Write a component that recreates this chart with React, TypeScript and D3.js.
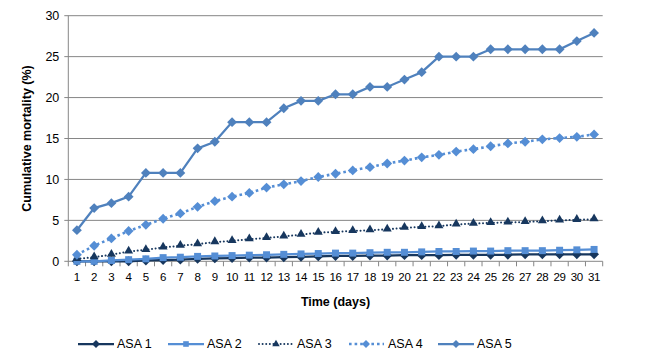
import React, { useEffect, useRef } from 'react';
import * as d3 from 'd3';

const days = d3.range(1, 32).map(String);
const yTicks = [0, 5, 10, 15, 20, 25, 30];

const asa1 = [0, 0, 0, 0, 0.1, 0.15, 0.2, 0.3, 0.35, 0.4, 0.45, 0.45, 0.5, 0.55, 0.6, 0.65, 0.65, 0.7, 0.7, 0.75, 0.75, 0.75, 0.8, 0.8, 0.8, 0.8, 0.85, 0.85, 0.85, 0.85, 0.85];
const asa2 = [0, 0, 0.1, 0.2, 0.3, 0.45, 0.5, 0.6, 0.65, 0.7, 0.75, 0.8, 0.85, 0.9, 0.95, 1.0, 1.0, 1.05, 1.1, 1.1, 1.15, 1.2, 1.2, 1.25, 1.25, 1.3, 1.3, 1.3, 1.35, 1.4, 1.45];
const asa3 = [0.3, 0.5, 0.8, 1.2, 1.4, 1.7, 1.9, 2.1, 2.35, 2.5, 2.7, 2.85, 3.05, 3.25, 3.5, 3.6, 3.7, 3.8, 3.9, 4.1, 4.2, 4.3, 4.5, 4.6, 4.7, 4.75, 4.8, 4.9, 5.0, 5.07, 5.15];
const asa4 = [0.8, 1.9, 2.8, 3.7, 4.45, 5.2, 5.85, 6.65, 7.35, 7.9, 8.35, 9.0, 9.4, 9.8, 10.3, 10.7, 11.1, 11.5, 11.95, 12.3, 12.7, 13.0, 13.4, 13.7, 14.05, 14.4, 14.6, 14.9, 15.05, 15.2, 15.5];
const asa5 = [3.8, 6.5, 7.1, 7.9, 10.8, 10.8, 10.8, 13.8, 14.6, 17.0, 17.0, 17.0, 18.7, 19.6, 19.6, 20.4, 20.4, 21.3, 21.3, 22.2, 23.1, 25.0, 25.0, 25.0, 25.9, 25.9, 25.9, 25.9, 25.9, 26.9, 27.9];

const seriesNames = ['ASA 1', 'ASA 2', 'ASA 3', 'ASA 4', 'ASA 5'];
const seriesValues = [asa1, asa2, asa3, asa4, asa5];

type Marker = 'diamond' | 'square' | 'triangle';
const styles: { color: string; dash: string | null; cap: string; width: number; marker: Marker; size: number; legSize: number }[] = [
    { color: '#17375E', dash: null, cap: 'butt', width: 2.25, marker: 'diamond', size: 62, legSize: 40 },
    { color: '#558ED5', dash: null, cap: 'butt', width: 2.25, marker: 'square', size: 62, legSize: 40 },
    { color: '#17375E', dash: '0.01 3.6', cap: 'round', width: 2, marker: 'triangle', size: 58, legSize: 40 },
    { color: '#558ED5', dash: '2.6 3', cap: 'butt', width: 2.6, marker: 'diamond', size: 62, legSize: 40 },
    { color: '#4F81BD', dash: null, cap: 'butt', width: 2.25, marker: 'diamond', size: 62, legSize: 40 },
];

const symbolFor = (m: Marker) =>
    m === 'diamond' ? d3.symbolDiamond2 : m === 'square' ? d3.symbolSquare2 : d3.symbolTriangle2;

export default function App() {
    const svgRef = useRef<SVGSVGElement>(null);

    useEffect(() => {
        if (!svgRef.current) return;
        const width = 645;
        const height = 363;
        const margin = { top: 15.7, right: 42.3, bottom: 101.7, left: 68.3 };

        const svg = d3.select(svgRef.current);
        svg.selectAll('*').remove();

        const x = d3.scaleBand<string>()
            .domain(days)
            .range([margin.left, width - margin.right])
            .padding(0);
        const cx = (d: string) => (x(d) || 0) + x.bandwidth() / 2;

        const y = d3.scaleLinear()
            .domain([0, 30])
            .range([height - margin.bottom, margin.top]);

        const font = '"Liberation Sans", Arial, sans-serif';

        // gridlines + y tick labels
        const gy = svg.append('g');
        gy.selectAll('line')
            .data(yTicks)
            .enter()
            .append('line')
            .attr('x1', margin.left - 4)
            .attr('x2', width - margin.right)
            .attr('y1', d => y(d))
            .attr('y2', d => y(d))
            .attr('stroke', '#868686')
            .attr('stroke-width', 1);
        gy.selectAll('text')
            .data(yTicks)
            .enter()
            .append('text')
            .attr('x', margin.left - 9)
            .attr('y', d => y(d))
            .attr('dy', '0.35em')
            .attr('text-anchor', 'end')
            .attr('font-family', font)
            .attr('font-size', 12.5)
            .attr('fill', '#000')
            .text(d => d);

        // y axis line
        svg.append('line')
            .attr('x1', margin.left).attr('x2', margin.left)
            .attr('y1', y(30)).attr('y2', y(0))
            .attr('stroke', '#868686');

        // x axis category ticks
        const bounds = days.map(d => x(d) || 0).concat([width - margin.right]);
        svg.append('g')
            .selectAll('line')
            .data(bounds)
            .enter()
            .append('line')
            .attr('x1', d => d).attr('x2', d => d)
            .attr('y1', y(0)).attr('y2', y(0) + 5)
            .attr('stroke', '#868686');

        svg.append('g')
            .selectAll('text')
            .data(days)
            .enter()
            .append('text')
            .attr('x', d => cx(d))
            .attr('y', y(0) + 20)
            .attr('text-anchor', 'middle')
            .attr('font-family', font)
            .attr('font-size', 11.5)
            .attr('letter-spacing', -0.3)
            .attr('fill', '#000')
            .text(d => d);

        // series
        const line = d3.line<number>()
            .x((_, i) => cx(days[i]))
            .y(d => y(d));

        seriesValues.forEach((vals, si) => {
            const st = styles[si];
            const g = svg.append('g');
            g.append('path')
                .datum(vals)
                .attr('d', line)
                .attr('fill', 'none')
                .attr('stroke', st.color)
                .attr('stroke-width', st.width)
                .attr('stroke-linecap', st.cap)
                .attr('stroke-dasharray', st.dash);
            const sym = d3.symbol().type(symbolFor(st.marker)).size(st.size);
            g.selectAll('path.m')
                .data(vals)
                .enter()
                .append('path')
                .attr('class', 'm')
                .attr('d', sym)
                .attr('transform', (d, i) => `translate(${cx(days[i])},${y(d) + (st.marker === 'triangle' ? -0.5 : 0)})`)
                .attr('fill', st.color);
        });

        // axis titles
        svg.append('text')
            .attr('transform', `translate(27,${(y(0) + y(30)) / 2}) rotate(-90)`)
            .attr('text-anchor', 'middle')
            .attr('dy', '0.35em')
            .attr('font-family', font)
            .attr('font-weight', 'bold')
            .attr('font-size', 12.5)
            .text('Cumulative mortality (%)');

        svg.append('text')
            .attr('x', (margin.left + width - margin.right) / 2)
            .attr('y', 306)
            .attr('text-anchor', 'middle')
            .attr('font-family', font)
            .attr('font-weight', 'bold')
            .attr('font-size', 12.5)
            .text('Time (days)');

        // legend
        const legX = [78, 168, 258, 348, 438];
        const legY = 344;
        seriesNames.forEach((name, si) => {
            const st = styles[si];
            const lg = svg.append('g').attr('transform', `translate(${legX[si]},${legY})`);
            lg.append('line')
                .attr('x1', st.dash ? 1 : 0).attr('x2', 36)
                .attr('stroke', st.color)
                .attr('stroke-width', st.width)
                .attr('stroke-linecap', st.cap)
                .attr('stroke-dasharray', st.dash);
            lg.append('path')
                .attr('d', d3.symbol().type(symbolFor(st.marker)).size(st.legSize)())
                .attr('transform', 'translate(18,0)')
                .attr('fill', st.color);
            lg.append('text')
                .attr('x', si === 3 ? 40 : 39)
                .attr('dy', '0.35em')
                .attr('font-family', font)
                .attr('font-size', 12.5)
                .text(name);
        });
    }, []);

    return (
        <div style={{ position: 'fixed', left: 0, top: 0, width: 645, height: 363, background: '#fff' }}>
            <svg ref={svgRef} width={645} height={363}></svg>
        </div>
    );
}
